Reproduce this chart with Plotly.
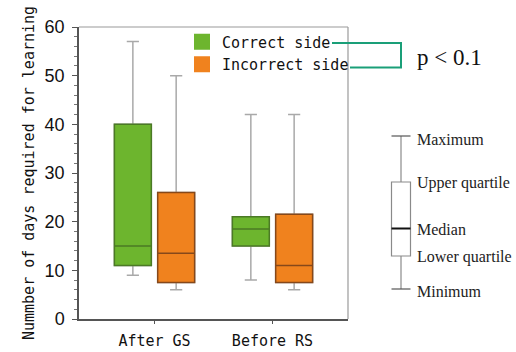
import plotly.graph_objects as go

# Summary statistics (days required for learning) per condition
categories = ["After GS", "Before RS"]

correct_min = [9, 8]
correct_q1 = [11, 15]
correct_median = [15, 18.5]
correct_q3 = [40, 21]
correct_max = [57, 42]

incorrect_min = [6, 6]
incorrect_q1 = [7.5, 7.5]
incorrect_median = [13.5, 11]
incorrect_q3 = [26, 21.5]
incorrect_max = [50, 42]

series_names = ["Correct side", "Incorrect side"]
y_ticks = [0, 10, 20, 30, 40, 50, 60]

W, H = 516, 352
L, R, T, B = 79, 168, 27, 33
PW, PH = W - L - R, H - T - B

MONO = "DejaVu Sans Mono, monospace"
SERIF = "Liberation Serif, Times New Roman, serif"

GREEN, GREEN_EDGE = "#6db52e", "#4b7a25"
ORANGE, ORANGE_EDGE = "#f0821e", "#86481a"
WHISKER = "#a9a9a9"
TEAL = "#1a9f78"


def px(x):
    return (x - L) / PW


def py(y):
    return (H - B - y) / PH


fig = go.Figure()

groups = [
    (series_names[0], "c", GREEN, GREEN_EDGE,
     correct_min, correct_q1, correct_median, correct_q3, correct_max),
    (series_names[1], "i", ORANGE, ORANGE_EDGE,
     incorrect_min, incorrect_q1, incorrect_median, incorrect_q3, incorrect_max),
]

for name, grp, fill, edge, lo, q1, med, q3, hi in groups:
    # whiskers (grey, with caps)
    fig.add_trace(go.Box(
        x=categories, q1=q1, median=med, q3=q3, lowerfence=lo, upperfence=hi,
        offsetgroup=grp, fillcolor="rgba(0,0,0,0)",
        line=dict(color=WHISKER, width=1.5), whiskerwidth=0.33,
        showlegend=False, hoverinfo="skip", boxpoints=False,
    ))
    # filled box with median
    fig.add_trace(go.Box(
        x=categories, q1=q1, median=med, q3=q3, lowerfence=q1, upperfence=q3,
        offsetgroup=grp, fillcolor=fill,
        line=dict(color=edge, width=1.5), whiskerwidth=0,
        showlegend=False, hoverinfo="skip", boxpoints=False,
    ))
    # legend entry
    fig.add_trace(go.Scatter(
        x=[None], y=[None], mode="markers", name=name,
        marker=dict(symbol="square", size=16, color=fill,
                    line=dict(color=fill, width=0)),
    ))

shapes = []
# light frame on top and right
shapes.append(dict(type="line", xref="paper", yref="paper", x0=0, x1=1, y0=1, y1=1,
                   line=dict(color="#9a9a9a", width=1.2), layer="below"))
shapes.append(dict(type="line", xref="paper", yref="paper", x0=1, x1=1, y0=0, y1=1,
                   line=dict(color="#9a9a9a", width=1.2), layer="below"))

# significance bracket joining the two legend entries
shapes.append(dict(
    type="path", xref="paper", yref="paper",
    path=f"M {px(332)},{py(43)} L {px(401)},{py(43)} L {px(401)},{py(67.5)} L {px(350)},{py(67.5)}",
    line=dict(color=TEAL, width=2),
))

# schematic key box plot
kx, kl, kr = 401, 391.5, 410.5
k_max, k_uq, k_med, k_lq, k_min = 136, 182, 228.5, 256, 289
shapes += [
    dict(type="line", xref="paper", yref="paper", x0=px(kx), x1=px(kx), y0=py(k_max), y1=py(k_min),
         line=dict(color="#8a8a8a", width=1.2)),
    dict(type="line", xref="paper", yref="paper", x0=px(kl), x1=px(kr), y0=py(k_max), y1=py(k_max),
         line=dict(color="#555555", width=1.2)),
    dict(type="line", xref="paper", yref="paper", x0=px(kl), x1=px(kr), y0=py(k_min), y1=py(k_min),
         line=dict(color="#555555", width=1.2)),
    dict(type="rect", xref="paper", yref="paper", x0=px(kl), x1=px(kr), y0=py(k_lq), y1=py(k_uq),
         fillcolor="white", line=dict(color="#8a8a8a", width=1.2)),
    dict(type="line", xref="paper", yref="paper", x0=px(kl), x1=px(kr), y0=py(k_med), y1=py(k_med),
         line=dict(color="#111111", width=2)),
]

annotations = []
for label, yy in [("Maximum", 139), ("Upper quartile", 183), ("Median", 229.5),
                  ("Lower quartile", 257), ("Minimum", 291.5)]:
    annotations.append(dict(
        text=label, xref="paper", yref="paper", x=px(415), y=py(yy),
        xanchor="left", yanchor="middle", showarrow=False,
        font=dict(family=SERIF, size=16, color="#222222"),
    ))
annotations.append(dict(
    text="p < 0.1", xref="paper", yref="paper", x=px(415), y=py(58),
    xanchor="left", yanchor="middle", showarrow=False,
    font=dict(family=SERIF, size=23, color="#111111"),
))

fig.update_layout(
    width=W, height=H,
    margin=dict(l=L, r=R, t=T, b=B, pad=0),
    paper_bgcolor="white", plot_bgcolor="white",
    boxmode="group", boxgap=0.266, boxgroupgap=0.147,
    showlegend=True,
    legend=dict(
        x=px(182), y=py(25.5), xanchor="left", yanchor="top",
        bgcolor="rgba(0,0,0,0)", borderwidth=0,
        font=dict(family=MONO, size=15, color="#111111"),
        itemwidth=30, tracegroupgap=0,
    ),
    shapes=shapes,
    annotations=annotations,
    xaxis=dict(
        type="category", range=[-0.64, 1.64], automargin=False,
        showline=True, linecolor="#555555", linewidth=1.5,
        ticks="outside", ticklen=3, tickcolor="#555555",
        showgrid=False, zeroline=False,
        tickfont=dict(family=MONO, size=15, color="#111111"),
        ticklabelstandoff=4,
    ),
    yaxis=dict(
        range=[0, 60], tickvals=y_ticks, automargin=False,
        showline=True, linecolor="#555555", linewidth=1.5,
        ticks="outside", ticklen=5, tickcolor="#555555",
        minor=dict(dtick=2, ticks="outside", ticklen=3, tickcolor="#777777"),
        showgrid=False, zeroline=False,
        tickfont=dict(family="Liberation Sans, Arial, sans-serif", size=18, color="#111111"),
        ticklabelstandoff=4,
        title=dict(text="Nummber of days required for learning",
                   font=dict(family=MONO, size=15, color="#111111"), standoff=6),
    ),
)

fig.write_html("out.html")
